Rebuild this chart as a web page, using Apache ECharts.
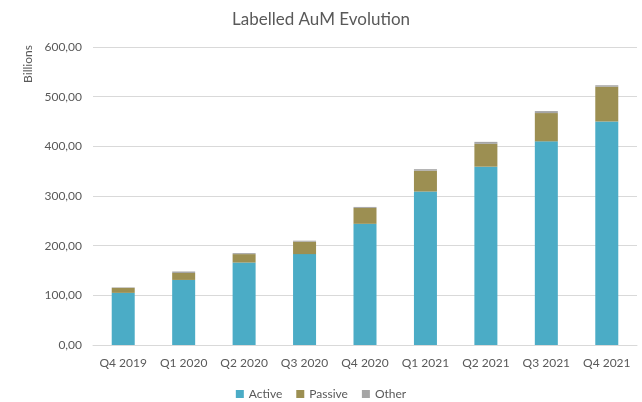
<!DOCTYPE html>
<html>
<head>
<meta charset="utf-8">
<script src="https://cdn.jsdelivr.net/npm/echarts@6/dist/echarts.min.js"></script>
<style>
  html, body { margin: 0; padding: 0; background: #fff; }
  #chart { width: 642px; height: 402px; }
</style>
</head>
<body>
<div id="chart"></div>
<script>
const quarters = ["Q4 2019", "Q1 2020", "Q2 2020", "Q3 2020", "Q4 2020", "Q1 2021", "Q2 2021", "Q3 2021", "Q4 2021"]
const active = [105, 131, 166, 183, 244, 309, 359, 410, 450]
const passive = [10, 14, 17, 25, 32, 42, 46, 57, 70]
const other = [1, 3, 2, 2, 2, 3, 4, 4, 3]

const chart = echarts.init(document.getElementById("chart"))

const font = "Lato, 'Open Sans', sans-serif"
const textColor = "#595959"

function barSeries(name, data, color) {
    return {
        name: name,
        type: "bar",
        stack: "aum",
        data: data,
        barWidth: 23,
        itemStyle: { color: color },
    }
}

const option = {
    animation: false,
    textStyle: { fontFamily: font },
    title: {
        text: "Labelled AuM Evolution",
        left: "center",
        top: 6,
        textStyle: {
            fontFamily: font,
            fontSize: 17,
            fontWeight: "normal",
            color: textColor,
        },
    },
    // axis title, placed like the original
    graphic: [
        {
            type: "text",
            x: 28,
            y: 64,
            rotation: Math.PI / 2,
            style: {
                text: "Billions",
                fontFamily: font,
                fontSize: 12,
                fill: textColor,
                align: "center",
                verticalAlign: "middle",
            },
        },
    ],
    legend: {
        data: ["Active", "Passive", "Other"],
        bottom: -3,
        left: "center",
        itemWidth: 8,
        itemHeight: 8,
        itemGap: 14,
        icon: "rect",
        textStyle: { fontFamily: font, fontSize: 12, color: textColor },
    },
    grid: {
        left: 93,
        right: 5,
        top: 47,
        bottom: 57,
    },
    xAxis: {
        type: "category",
        data: quarters,
        axisLine: { lineStyle: { color: "#d9d9d9" } },
        axisTick: { show: false },
        axisLabel: { color: textColor, fontSize: 12, margin: 12, interval: 0 },
    },
    yAxis: {
        type: "value",
        min: 0,
        max: 600,
        interval: 100,
        axisLine: { show: false },
        axisTick: { show: false },
        axisLabel: {
            color: textColor,
            fontSize: 12,
            margin: 11,
            formatter: (v) => v.toFixed(2).replace(".", ","),
        },
        splitLine: { lineStyle: { color: "#d9d9d9" } },
    },
    series: [
        barSeries("Active", active, "#4bacc6"),
        barSeries("Passive", passive, "#9c8f52"),
        barSeries("Other", other, "#a5a5a5"),
    ],
}

chart.setOption(option)
</script>
</body>
</html>
